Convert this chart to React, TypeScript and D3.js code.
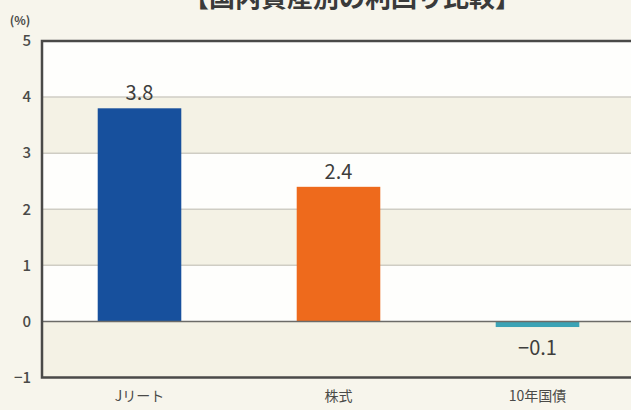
import { FC, useEffect, useRef } from 'react';
import * as d3 from 'd3';

const categories = ['Jリート', '株式', '10年国債'];
const yields = [3.8, 2.4, -0.1];
const barColors = ['#17509d', '#ee6a1c', '#3ba3b5'];
const yTicks = [-1, 0, 1, 2, 3, 4, 5];
const title = '【国内資産別の利回り比較】';
const unitLabel = '(%)';

const W = 631;
const H = 410;

const App: FC = () => {
  const ref = useRef<SVGSVGElement | null>(null);

  useEffect(() => {
    const svg = d3.select(ref.current);
    svg.selectAll('*').remove();

    const left = 42;
    const right = 660;
    const top = 41;
    const bottom = 377.5;

    const x = d3
      .scaleBand<string>()
      .domain(categories)
      .range([40, 637])
      .paddingInner(0.58)
      .paddingOuter(0.29);
    const y = d3.scaleLinear().domain([-1, 5]).range([bottom, top]);

    svg.append('rect').attr('width', W).attr('height', H).attr('fill', '#f7f5ec');

    // alternating bands
    const bands = d3.range(-1, 5);
    svg
      .selectAll('.band')
      .data(bands)
      .enter()
      .append('rect')
      .attr('x', left)
      .attr('width', right - left)
      .attr('y', d => y(d + 1))
      .attr('height', d => y(d) - y(d + 1))
      .attr('fill', d => ((d - 4) % 2 === 0 ? '#fefefc' : '#f4f2e5'));

    // gridlines
    svg
      .selectAll('.grid')
      .data([1, 2, 3, 4])
      .enter()
      .append('line')
      .attr('x1', left)
      .attr('x2', right)
      .attr('y1', d => y(d))
      .attr('y2', d => y(d))
      .attr('stroke', '#cfcdc4')
      .attr('stroke-width', 1.5);

    // bars
    svg
      .selectAll('.bar')
      .data(yields)
      .enter()
      .append('rect')
      .attr('x', (d, i) => x(categories[i])!)
      .attr('width', x.bandwidth())
      .attr('y', d => y(Math.max(0, d)))
      .attr('height', d => Math.abs(y(d) - y(0)))
      .attr('fill', (d, i) => barColors[i]);

    // zero line
    svg
      .append('line')
      .attr('x1', left)
      .attr('x2', right)
      .attr('y1', y(0))
      .attr('y2', y(0))
      .attr('stroke', '#6b6b68')
      .attr('stroke-width', 1.5);

    // frame
    svg
      .append('path')
      .attr('d', `M${right},${top}H${left}V${bottom}H${right}`)
      .attr('fill', 'none')
      .attr('stroke', '#4a4a48')
      .attr('stroke-width', 2.5);

    // value labels
    svg
      .selectAll('.val')
      .data(yields)
      .enter()
      .append('text')
      .attr('x', (d, i) => x(categories[i])! + x.bandwidth() / 2)
      .attr('y', d => (d >= 0 ? y(d) - 8 : y(d) + 28))
      .attr('text-anchor', 'middle')
      .attr('font-family', "'Noto Sans CJK JP', sans-serif")
      .attr('font-size', 20)
      .attr('fill', '#3e3e3c')
      .text(d => (d < 0 ? '\u2212' + Math.abs(d).toFixed(1) : d.toFixed(1)));

    // y tick labels
    svg
      .selectAll('.ytick')
      .data(yTicks)
      .enter()
      .append('text')
      .attr('x', 31)
      .attr('y', d => y(d))
      .attr('dy', '0.35em')
      .attr('text-anchor', 'end')
      .attr('font-family', "'Noto Sans CJK JP', sans-serif")
      .attr('font-size', 15)
      .attr('font-weight', 500)
      .attr('fill', '#4a4a48')
      .text(d => (d < 0 ? '\u2212' + Math.abs(d) : String(d)));

    // x labels
    svg
      .selectAll('.xlab')
      .data(categories)
      .enter()
      .append('text')
      .attr('x', d => x(d)! + x.bandwidth() / 2)
      .attr('y', 401)
      .attr('text-anchor', 'middle')
      .attr('font-family', "'Noto Sans CJK JP', sans-serif")
      .attr('font-size', 14)
      .attr('fill', '#4a4a48')
      .text(d => d);

    svg
      .append('text')
      .attr('x', 20)
      .attr('y', 25)
      .attr('text-anchor', 'middle')
      .attr('font-family', "'Noto Sans CJK JP', sans-serif")
      .attr('font-size', 12)
      .attr('font-weight', 'bold')
      .attr('fill', '#4a4a48')
      .text(unitLabel);

    svg
      .append('text')
      .attr('x', 352)
      .attr('y', 7)
      .attr('text-anchor', 'middle')
      .attr('font-family', "'Noto Sans CJK JP', sans-serif")
      .attr('font-size', 26)
      .attr('font-weight', 'bold')
      .attr('fill', '#3a3a3a')
      .text(title);
  }, []);

  return (
    <svg
      ref={ref}
      width={W}
      height={H}
      style={{ position: 'absolute', left: 0, top: 0, display: 'block' }}
    />
  );
};

export default App;
